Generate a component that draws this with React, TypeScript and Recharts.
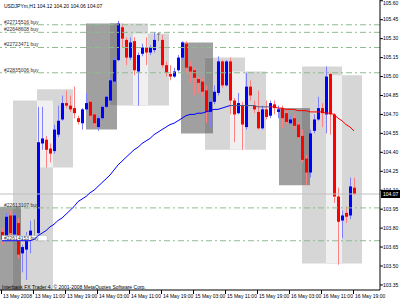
import { ComposedChart, Bar, Line, XAxis, YAxis, ReferenceArea, ReferenceLine } from 'recharts';

// USDJPYm H1, 13 May 03:00 .. 16 May 19:00
const tickIdx = [0, 8, 16, 24, 32, 40, 48, 56, 64, 72, 80, 88];
const timeLabels = [
  '13 May 2008', '13 May 11:00', '13 May 19:00', '14 May 03:00', '14 May 11:00', '14 May 19:00',
  '15 May 03:00', '15 May 11:00', '15 May 19:00', '16 May 03:00', '16 May 11:00', '16 May 19:00',
];
const priceTicks = [105.6, 105.45, 105.3, 105.15, 105.0, 104.85, 104.7, 104.55, 104.4, 104.25, 104.1, 103.95, 103.8, 103.65, 103.5, 103.35];

const opens = [
  103.77, 103.72, 103.90, 103.75, 103.84, 103.60, 103.63, 103.72, 103.74, 103.76,
  104.47, 104.50, 104.43, 104.41, 104.54, 104.66, 104.79, 104.77, 104.75, 104.67,
  104.63, 104.74, 104.80, 104.70, 104.60, 104.67, 104.76, 104.81, 104.96, 105.13,
  105.39, 105.29, 105.15, 105.28, 105.04, 105.18, 105.23, 105.19, 105.21, 105.34,
  105.29, 105.09, 105.02, 105.00, 105.05, 105.15, 105.26, 105.08, 105.05, 104.98,
  104.96, 104.89, 104.72, 104.80, 104.87, 105.12, 104.93, 105.12, 104.81, 104.71,
  104.77, 104.60, 104.92, 104.77, 104.72, 104.59, 104.74, 104.69, 104.78, 104.72,
  104.75, 104.71, 104.63, 104.67, 104.62, 104.53, 104.35, 104.24, 104.57, 104.66,
  104.75, 104.70, 105.02, 104.70, 104.05, 103.86, 103.92, 103.90, 104.12,
];
const highs = [
  103.80, 103.92, 103.94, 103.92, 103.88, 103.67, 103.77, 103.86, 103.87, 104.76,
  104.76, 104.53, 104.47, 104.62, 104.77, 104.85, 104.89, 104.85, 104.92, 104.69,
  104.75, 104.87, 104.81, 104.71, 104.69, 104.77, 104.85, 104.99, 105.15, 105.44,
  105.42, 105.31, 105.31, 105.31, 105.19, 105.26, 105.31, 105.25, 105.35, 105.35,
  105.33, 105.12, 105.09, 105.07, 105.17, 105.28, 105.28, 105.12, 105.07, 105.00,
  104.99, 104.93, 104.83, 104.93, 105.16, 105.13, 105.13, 105.15, 104.83, 104.87,
  104.80, 105.03, 104.97, 104.81, 104.89, 104.77, 104.81, 104.81, 104.81, 104.77,
  104.77, 104.74, 104.69, 104.70, 104.64, 104.58, 104.38, 104.58, 104.70, 104.84,
  104.79, 105.08, 105.03, 104.71, 104.12, 103.94, 103.97, 104.20, 104.20,
];
const lows = [
  103.67, 103.70, 103.71, 103.72, 103.56, 103.45, 103.39, 103.60, 103.71, 103.75,
  104.42, 104.28, 104.32, 104.39, 104.52, 104.65, 104.75, 104.72, 104.67, 104.62,
  104.58, 104.73, 104.66, 104.60, 104.57, 104.66, 104.75, 104.80, 104.94, 105.12,
  105.23, 105.09, 105.13, 105.01, 104.77, 105.16, 105.09, 105.17, 105.19, 105.28,
  105.07, 105.00, 104.97, 104.99, 105.04, 105.13, 105.03, 104.95, 104.85, 104.87,
  104.84, 104.63, 104.60, 104.78, 104.85, 104.91, 104.92, 104.70, 104.48, 104.70,
  104.42, 104.58, 104.81, 104.71, 104.58, 104.58, 104.66, 104.67, 104.70, 104.67,
  104.59, 104.62, 104.62, 104.58, 104.51, 104.32, 104.14, 104.20, 104.55, 104.65,
  104.60, 104.55, 104.54, 104.00, 103.51, 103.72, 103.84, 103.87, 104.06,
];
const closes = [
  103.71, 103.89, 103.76, 103.90, 103.59, 103.65, 103.71, 103.78, 103.74, 104.48,
  104.51, 104.42, 104.39, 104.58, 104.65, 104.79, 104.77, 104.74, 104.71, 104.64,
  104.74, 104.79, 104.69, 104.63, 104.67, 104.76, 104.84, 104.97, 105.13, 105.42,
  105.30, 105.15, 105.27, 105.05, 105.17, 105.23, 105.19, 105.23, 105.29, 105.34,
  105.09, 105.03, 105.00, 105.04, 105.15, 105.27, 105.07, 105.04, 104.99, 104.95,
  104.88, 104.72, 104.80, 104.88, 105.12, 104.93, 105.12, 104.81, 104.70, 104.79,
  104.62, 104.92, 104.85, 104.74, 104.59, 104.74, 104.68, 104.79, 104.75, 104.74,
  104.67, 104.64, 104.66, 104.61, 104.52, 104.34, 104.24, 104.55, 104.66, 104.75,
  104.71, 105.00, 104.70, 104.05, 103.85, 103.90, 103.89, 104.13, 104.07,
];
const ma = [
  103.70, 103.70, 103.70, 103.70, 103.70, 103.70, 103.70, 103.70, 103.71, 103.74,
  103.76, 103.78, 103.81, 103.83, 103.86, 103.88, 103.91, 103.94, 103.97, 104.01,
  104.03, 104.05, 104.08, 104.10, 104.13, 104.16, 104.19, 104.22, 104.26, 104.30,
  104.33, 104.36, 104.39, 104.42, 104.44, 104.47, 104.49, 104.51, 104.54, 104.56,
  104.58, 104.60, 104.62, 104.63, 104.65, 104.67, 104.69, 104.70, 104.70, 104.71,
  104.71, 104.72, 104.73, 104.74, 104.74, 104.75, 104.76, 104.77, 104.77, 104.77,
  104.77, 104.77, 104.77, 104.77, 104.76, 104.76, 104.76, 104.76, 104.76, 104.75,
  104.75, 104.74, 104.74, 104.74, 104.73, 104.73, 104.73, 104.72, 104.72, 104.72,
  104.72, 104.71, 104.71, 104.70, 104.67, 104.65, 104.62, 104.60, 104.57,
];
const maGrayFrom = 57;
const maRedFrom = 67;

const orderLabels = ['#22715516 buy', '#22648608 buy', '#22723471 buy', '#22835006 buy', '#22613107 buy', '#22614153 buy'];
const orderPrices = [105.41, 105.35, 105.23, 105.03, 103.96, 103.70];

// rectangles: bar index range, price range
const zoneStart = [-0.5, 2.75, 8.75, 21, 27, 32.75, 44.75, 50.75, 57, 69.25, 75, 81];
const zoneEnd = [4.75, 12.75, 17.75, 28.75, 36.5, 41.75, 52.75, 60.75, 66, 77, 85, 90];
const zoneTop = [103.97, 104.81, 104.9, 105.42, 105.42, 105.34, 105.27, 105.15, 105.04, 104.75, 105.08, 105.01];
const zoneBottom = [103.31, 103.31, 104.28, 104.58, 104.77, 104.77, 104.55, 104.42, 104.42, 104.14, 103.52, 103.52];
const zoneDark = [true, false, false, true, false, false, true, false, false, true, false, false];

const data = opens.map((o, i) => ({
  idx: i,
  open: o,
  high: highs[i],
  low: lows[i],
  close: closes[i],
  maBlue: i <= maGrayFrom ? ma[i] : null,
  maGray: i >= maGrayFrom && i <= maRedFrom ? ma[i] : null,
  maRed: i >= maRedFrom ? ma[i] : null,
}));

const zones = zoneStart.map((s, i) => ({ x1: s, x2: zoneEnd[i], y1: zoneBottom[i], y2: zoneTop[i], fill: zoneDark[i] ? '#a0a0a0' : '#d6d6d6' }));
const overlaps: any[] = [];
zones.forEach((a, i) => {
  zones.forEach((b, j) => {
    if (j <= i) return;
    const x1 = Math.max(a.x1, b.x1), x2 = Math.min(a.x2, b.x2);
    const y1 = Math.max(a.y1, b.y1), y2 = Math.min(a.y2, b.y2);
    if (x2 > x1 && y2 > y1) {
      overlaps.push({ x1, x2, y1, y2, fill: zoneDark[i] || zoneDark[j] ? '#8c8c8c' : '#f0f0f0' });
    }
  });
});

const FONT = 'Liberation Sans, Arial, sans-serif';
const FS = 5;

const Candle = (props: any) => {
  const { x, y, width, height, payload } = props;
  if (!payload) return null;
  const { open, close, high, low } = payload;
  const top = Math.min(y, y + height);
  const h = Math.abs(height);
  const toY = (v: number) => top + ((high - v) / (high - low)) * h;
  const flat = open === close;
  const up = close > open;
  const body = flat ? '#808080' : up ? '#0000ff' : '#ff0000';
  const wick = flat ? '#909090' : up ? '#8080ff' : '#ff8080';
  const cx = Math.round(x + width / 2) + 0.5;
  const b1 = toY(Math.max(open, close));
  const b2 = toY(Math.min(open, close));
  return (
    <g>
      <line x1={cx} x2={cx} y1={top} y2={top + h} stroke={wick} strokeWidth={1} />
      <rect x={cx - 1.5} y={b1} width={3} height={Math.max(1, b2 - b1)} fill={body} />
    </g>
  );
};

const TimeTick = ({ x, payload }: any) => {
  const k = tickIdx.indexOf(payload.value);
  return (
    <g>
      <line x1={x - 0.5} x2={x - 0.5} y1={290} y2={294} stroke="#000" />
      <text x={x + 1} y={298} fontSize={FS} fontFamily={FONT} fill="#000">{timeLabels[k]}</text>
    </g>
  );
};

const PriceTick = ({ y, payload }: any) => (
  <text x={383} y={Math.max(y, 3.5)} dy="0.35em" fontSize={FS} fontFamily={FONT} fill="#000">{payload.value.toFixed(2)}</text>
);

const PriceTag = (props: any) => {
  const vb = props.viewBox || {};
  const right = (vb.x || 0) + (vb.width || 0);
  return (
    <g>
      <rect x={right + 1} y={vb.y - 4} width={19} height={8} fill="#000" />
      <text x={right + 3} y={vb.y} dy="0.35em" fontSize={FS} fontFamily={FONT} fill="#fff">{closes[closes.length - 1].toFixed(2)}</text>
    </g>
  );
};

const OrderLabel = (text: string, boxed: boolean) => (props: any) => {
  const vb = props.viewBox || {};
  return (
    <g>
      {boxed && <rect x={2} y={vb.y - 5} width={45} height={5} fill="#fff" stroke="#c0c0c0" strokeWidth={0.5} />}
      <text x={4} y={vb.y - 1} fontSize={FS} fontFamily={FONT} fill="#333">{text}</text>
    </g>
  );
};

export default function App() {
  const last = data.length - 1;
  const title = `USDJPYm,H1  ${opens[last].toFixed(2)} ${highs[last].toFixed(2)} ${lows[last].toFixed(2)} ${closes[last].toFixed(2)}`;
  return (
    <div style={{ position: 'relative', width: 400, height: 300, background: '#fff' }}>
      <style>{'body{margin:0}'}</style>
      <ComposedChart width={400} height={300} data={data} margin={{ top: 0, right: 0, bottom: 0, left: 0 }}>
        <XAxis
          dataKey="idx"
          type="number"
          domain={[-0.5, 94.5]}
          ticks={tickIdx}
          interval={0}
          height={10}
          tickLine={false}
          axisLine={{ stroke: '#000' }}
          tick={<TimeTick />}
          allowDataOverflow
        />
        <YAxis
          orientation="right"
          type="number"
          domain={[103.31, 105.606]}
          ticks={priceTicks}
          interval={0}
          width={20}
          tickSize={3}
          tickLine={{ stroke: '#000' }}
          axisLine={{ stroke: '#000' }}
          tick={<PriceTick />}
          allowDataOverflow
        />
        {zones.map((z, i) => (
          <ReferenceArea key={'z' + i} x1={z.x1} x2={z.x2} y1={z.y1} y2={z.y2} fill={z.fill} fillOpacity={1} stroke="none" ifOverflow="hidden" />
        ))}
        {overlaps.map((z, i) => (
          <ReferenceArea key={'o' + i} x1={z.x1} x2={z.x2} y1={z.y1} y2={z.y2} fill={z.fill} fillOpacity={1} stroke="none" ifOverflow="hidden" />
        ))}
        {orderPrices.map((p, i) => (
          <ReferenceLine
            key={'l' + i}
            y={p}
            stroke="#8fbc8f"
            strokeDasharray="6 3 2 3"
            label={OrderLabel(orderLabels[i], i === orderPrices.length - 1)}
          />
        ))}
        <ReferenceLine y={closes[last]} stroke="#c0c0c0" label={<PriceTag />} />
        <Bar dataKey={(d: any) => [d.low, d.high]} barSize={3} shape={<Candle />} activeBar={false} isAnimationActive={false} />
        <Line dataKey="maBlue" stroke="#0000ff" strokeWidth={1} dot={false} activeDot={false} isAnimationActive={false} connectNulls={false} />
        <Line dataKey="maGray" stroke="#5a5a80" strokeWidth={1} dot={false} activeDot={false} isAnimationActive={false} connectNulls={false} />
        <Line dataKey="maRed" stroke="#ff0000" strokeWidth={1} dot={false} activeDot={false} isAnimationActive={false} connectNulls={false} />
      </ComposedChart>
      <svg width={400} height={300} style={{ position: 'absolute', left: 0, top: 0, pointerEvents: 'none' }}>
        <text x={4} y={8} fontSize={FS} fontFamily={FONT} fill="#000">{title}</text>
        <text x={2} y={289} fontSize={FS} fontFamily={FONT} fill="#000">
          Interbank FX Trader 4, © 2001-2008 MetaQuotes Software Corp.
        </text>
      </svg>
    </div>
  );
}
